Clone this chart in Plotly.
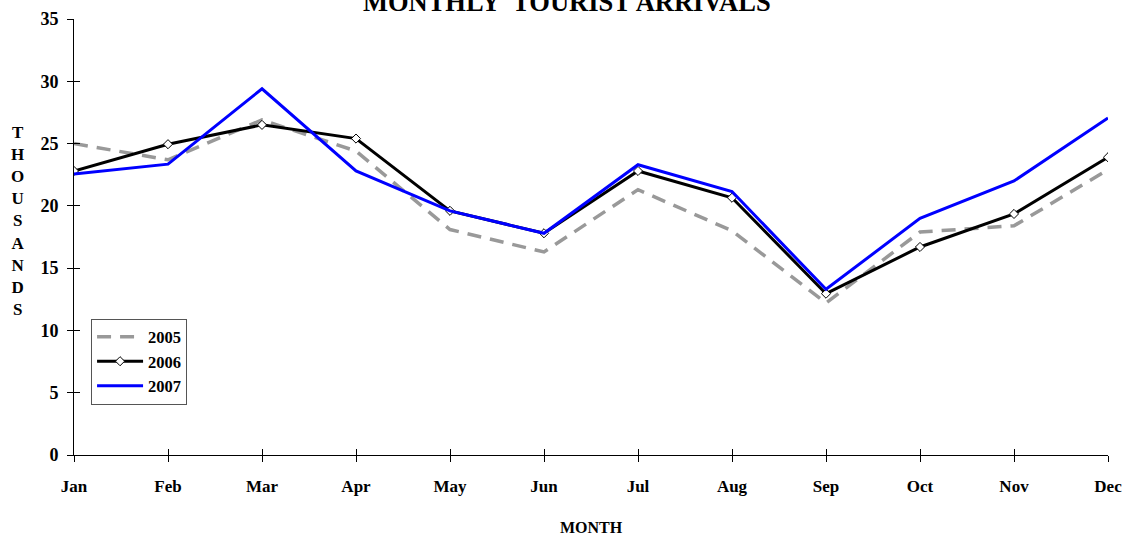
import plotly.graph_objects as go

months = ["Jan", "Feb", "Mar", "Apr", "May", "Jun", "Jul", "Aug", "Sep", "Oct", "Nov", "Dec"]
y2005 = [25.0, 23.7, 26.9, 24.4, 18.1, 16.3, 21.3, 18.0, 12.2, 17.9, 18.4, 22.9]
y2006 = [22.8, 24.95, 26.5, 25.4, 19.6, 17.8, 22.8, 20.65, 12.95, 16.7, 19.35, 23.9]
y2007 = [22.55, 23.35, 29.4, 22.8, 19.6, 17.8, 23.3, 21.15, 13.3, 19.0, 22.0, 27.05]
yticks = [0, 5, 10, 15, 20, 25, 30, 35]

FONT = "Liberation Serif"
xi = list(range(len(months)))

fig = go.Figure()
fig.add_trace(go.Scatter(x=xi, y=y2005, name="<b>2005</b>", mode="lines",
                         line=dict(color="#999999", width=3.5, dash="14px,9px")))
fig.add_trace(go.Scatter(x=xi, y=y2006, name="<b>2006</b>", mode="lines+markers",
                         line=dict(color="black", width=3),
                         marker=dict(symbol="diamond", size=7, color="white",
                                     line=dict(color="black", width=1))))
fig.add_trace(go.Scatter(x=xi, y=y2007, name="<b>2007</b>", mode="lines",
                         line=dict(color="#0000FF", width=3)))

axis_common = dict(showgrid=False, zeroline=False, showline=True, linecolor="black",
                   linewidth=1, automargin=False)

fig.update_layout(
    width=1137, height=538,
    margin=dict(l=74, r=29, t=19, b=83, autoexpand=False),
    paper_bgcolor="white", plot_bgcolor="white",
    font=dict(family=FONT, color="black"),
    title=dict(text="<b>MONTHLY  TOURIST ARRIVALS</b>", x=0.4985, xanchor="center",
               y=0.997, yref="container", yanchor="middle",
               font=dict(family=FONT, size=26.5, color="black")),
    showlegend=True,
    legend=dict(x=0.0165, y=0.313, xanchor="left", yanchor="top",
                bgcolor="white", bordercolor="#555555", borderwidth=1,
                font=dict(family=FONT, size=16.5, color="black"),
                itemwidth=46, tracegroupgap=0),
    xaxis=dict(**axis_common, range=[0, 11], tickmode="array", tickvals=xi,
               ticktext=[f"<b>{m}</b>" for m in months],
               ticks="outside", ticklen=6, tickcolor="black", ticklabelstandoff=10,
               tickfont=dict(family=FONT, size=17, color="black"),
               title=dict(text="<b>MONTH</b>", font=dict(family=FONT, size=16, color="black"),
                          standoff=26)),
    yaxis=dict(**axis_common, range=[0, 35], tickmode="array", tickvals=yticks,
               ticktext=[f"<b>{v}</b>" for v in yticks],
               ticks="outside", ticklen=6, tickcolor="black", ticklabelstandoff=5,
               tickfont=dict(family=FONT, size=18, color="black")),
    xaxis2=dict(overlaying="x", range=[0, 11], tickmode="array", tickvals=xi,
                ticks="inside", ticklen=6, tickcolor="black", showticklabels=False,
                showgrid=False, zeroline=False, showline=False, side="bottom",
                automargin=False),
    yaxis2=dict(overlaying="y", range=[0, 35], tickmode="array", tickvals=yticks,
                ticks="inside", ticklen=6, tickcolor="black", showticklabels=False,
                showgrid=False, zeroline=False, showline=False, side="left",
                automargin=False),
)

# invisible trace to activate the secondary (inside-tick) axes
fig.add_trace(go.Scatter(x=[0], y=[0], xaxis="x2", yaxis="y2", mode="markers",
                         marker=dict(opacity=0), showlegend=False, hoverinfo="skip"))

fig.add_annotation(text="<br>".join(f"<b>{c}</b>" for c in "THOUSANDS"),
                   xref="paper", yref="paper", x=-0.0551, y=0.5356,
                   xanchor="center", yanchor="middle", showarrow=False,
                   font=dict(family=FONT, size=17, color="black"), align="center")

fig.write_html("out.html", config={"displayModeBar": False},
               post_script="document.body.style.margin='0';document.body.style.overflow='hidden';")
